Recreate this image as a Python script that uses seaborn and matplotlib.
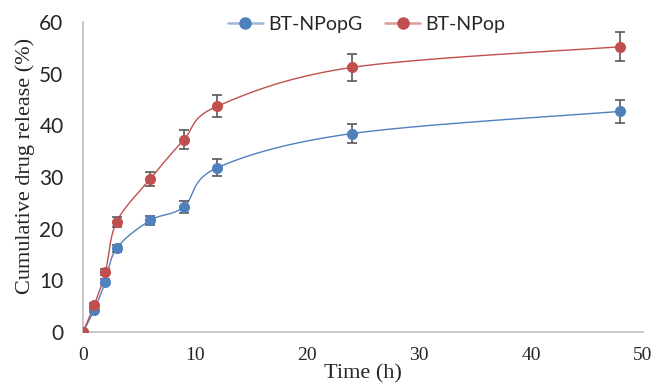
import numpy as np
import matplotlib
matplotlib.use('Agg')
import matplotlib.pyplot as plt
from matplotlib.lines import Line2D
import seaborn as sns

# release data
time_h = [0, 1, 2, 3, 6, 9, 12, 24, 48]
npopg = [0, 4.3, 9.7, 16.2, 21.6, 24.2, 31.8, 38.4, 42.7]
npopg_err = [0, 0.4, 0.5, 0.7, 0.9, 1.1, 1.6, 1.9, 2.2]
npop = [0, 5.2, 11.6, 21.3, 29.6, 37.2, 43.7, 51.2, 55.2]
npop_err = [0, 0.4, 0.5, 1.0, 1.4, 1.8, 2.1, 2.6, 2.8]

series_names = ['BT-NPopG', 'BT-NPop']
colors = ['#4F81BD', '#C0504D']
light = ['#9CB8DB', '#DE9B99']


def smooth(x, y, n=40):
    # Excel-like smoothed line: cubic bezier with catmull-rom control points
    x = np.asarray(x, float); y = np.asarray(y, float)
    px = np.concatenate([[x[0]], x, [x[-1]]])
    py = np.concatenate([[y[0]], y, [y[-1]]])
    xs, ys = [], []
    t = np.linspace(0, 1, n)
    for i in range(1, len(px) - 2):
        p0 = np.array([px[i], py[i]]); p3 = np.array([px[i + 1], py[i + 1]])
        p1 = p0 + (np.array([px[i + 1], py[i + 1]]) - np.array([px[i - 1], py[i - 1]])) / 6
        p2 = p3 - (np.array([px[i + 2], py[i + 2]]) - np.array([px[i], py[i]])) / 6
        b = (np.outer((1 - t) ** 3, p0) + np.outer(3 * (1 - t) ** 2 * t, p1)
             + np.outer(3 * (1 - t) * t ** 2, p2) + np.outer(t ** 3, p3))
        xs.append(b[:, 0]); ys.append(b[:, 1])
    return np.concatenate(xs), np.concatenate(ys)


sns.set_style('white')
fig = plt.figure(figsize=(6.56, 3.9), dpi=100)
ax = fig.add_axes([0.1265, 0.1487, 0.8535, 0.795])

handles = []
for vals, errs, name, c, lc in zip([npopg, npop], [npopg_err, npop_err], series_names, colors, light):
    sx, sy = smooth(time_h, vals)
    ax.plot(sx, sy, color=c, lw=1, zorder=2)
    ax.errorbar(time_h, vals, yerr=errs, fmt='none', ecolor='#595959',
                elinewidth=1.2, capsize=3.5, capthick=1.2, zorder=3)
    sns.scatterplot(x=time_h, y=vals, color=c, s=64, edgecolor=c, linewidth=0,
                    zorder=4, ax=ax)
    handles.append(Line2D([], [], color=lc, lw=1.8, marker='o', markersize=8,
                          markerfacecolor=c, markeredgecolor=c, label=name))

ax.set_xlim(0, 50)
ax.set_ylim(0, 60)
ax.set_xticks([0, 10, 20, 30, 40, 50])
ax.set_yticks([0, 10, 20, 30, 40, 50, 60])
ax.tick_params(axis='y', length=0, pad=14, labelsize=15)
ax.tick_params(axis='x', length=0, pad=11, labelsize=14)
for lab in ax.get_yticklabels():
    lab.set_family('Lato')
for lab in ax.get_xticklabels():
    lab.set_family('Liberation Serif')

for s in ['top', 'right']:
    ax.spines[s].set_visible(False)
for s in ['left', 'bottom']:
    ax.spines[s].set_color('#BFBFBF')
    ax.spines[s].set_linewidth(1.2)

ax.set_xlabel('Time (h)', family='Liberation Serif', fontsize=16)
ax.set_ylabel('Cumulative drug release (%)', family='Liberation Serif', fontsize=16)
ax.xaxis.set_label_coords(0.5, -0.105)
ax.yaxis.set_label_coords(-0.085, 0.535)

fig.legend(handles=handles, loc='center', bbox_to_anchor=(0.559, 0.938), ncol=2,
           frameon=False, prop={'family': 'Lato', 'size': 14}, handlelength=1.8,
           columnspacing=1.2, handletextpad=0.27, borderpad=0, borderaxespad=0)

fig.savefig('out.png', dpi=100)
